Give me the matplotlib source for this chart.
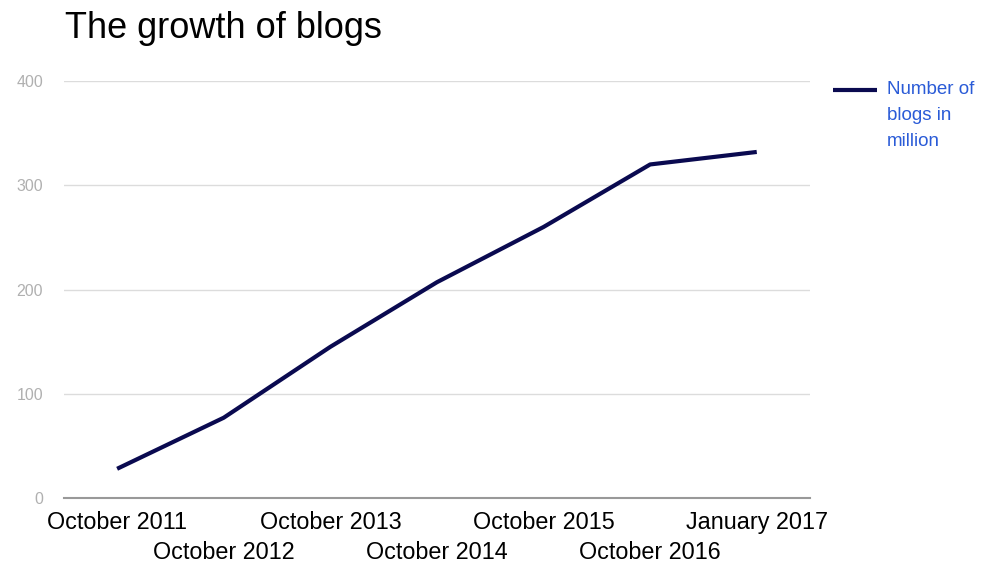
import matplotlib
matplotlib.use("Agg")
import matplotlib.pyplot as plt
from matplotlib.lines import Line2D

# data
months = ["October 2011", "October 2012", "October 2013", "October 2014",
          "October 2015", "October 2016", "January 2017"]
blogs = [28, 77, 145, 207, 260, 320, 332]

plt.rcParams['font.family'] = ['Liberation Sans', 'DejaVu Sans']

fig = plt.figure(figsize=(9.97, 5.63), dpi=100)
ax = fig.add_axes([0.064, 0.1155, 0.7485, 0.7405])

x = list(range(len(months)))
ax.plot(x, blogs, color="#0a0a50", linewidth=3, solid_capstyle="butt")

ax.set_xlim(-0.5, len(months) - 0.5)
ax.set_ylim(0, 400)
ax.set_yticks([0, 100, 200, 300, 400])
ax.grid(axis="y", color="#dcdcdc", linewidth=1)
ax.set_axisbelow(True)

for s in ["top", "right", "left"]:
    ax.spines[s].set_visible(False)
ax.spines["bottom"].set_color("#999999")
ax.spines["bottom"].set_linewidth(1.5)
ax.spines["bottom"].set_zorder(3)

ax.tick_params(axis="y", length=0, pad=15, labelcolor="#b0b0b0", labelsize=11.5)
ax.set_xticks(x)
ax.set_xticklabels([])
ax.tick_params(axis="x", length=0)

# labels alternate on two rows
for i, m in enumerate(months):
    off = -18 if i % 2 == 0 else -39
    ax.annotate(m, xy=(i, 0), xycoords=("data", "axes fraction"),
                xytext=(0, off), textcoords="offset points",
                ha="center", va="center", fontsize=16.8)

fig.text(0.065, 1 - 28 / 563, "The growth of blogs", fontsize=26, va="center")

# legend drawn by hand: handle sits on the first text line
fig.add_artist(Line2D([833 / 997, 877 / 997], [1 - 90 / 563, 1 - 90 / 563],
                      color="#0a0a50", linewidth=3, solid_capstyle="butt"))
fig.text(887 / 997, 1 - 90 / 563, "Number of", fontsize=13.5,
         color="#2a5bd7", va="center")
fig.text(887 / 997, 1 - 115.5 / 563, "blogs in", fontsize=13.5,
         color="#2a5bd7", va="center")
fig.text(887 / 997, 1 - 141 / 563, "million", fontsize=13.5,
         color="#2a5bd7", va="center")

fig.savefig("out.png", dpi=100)
